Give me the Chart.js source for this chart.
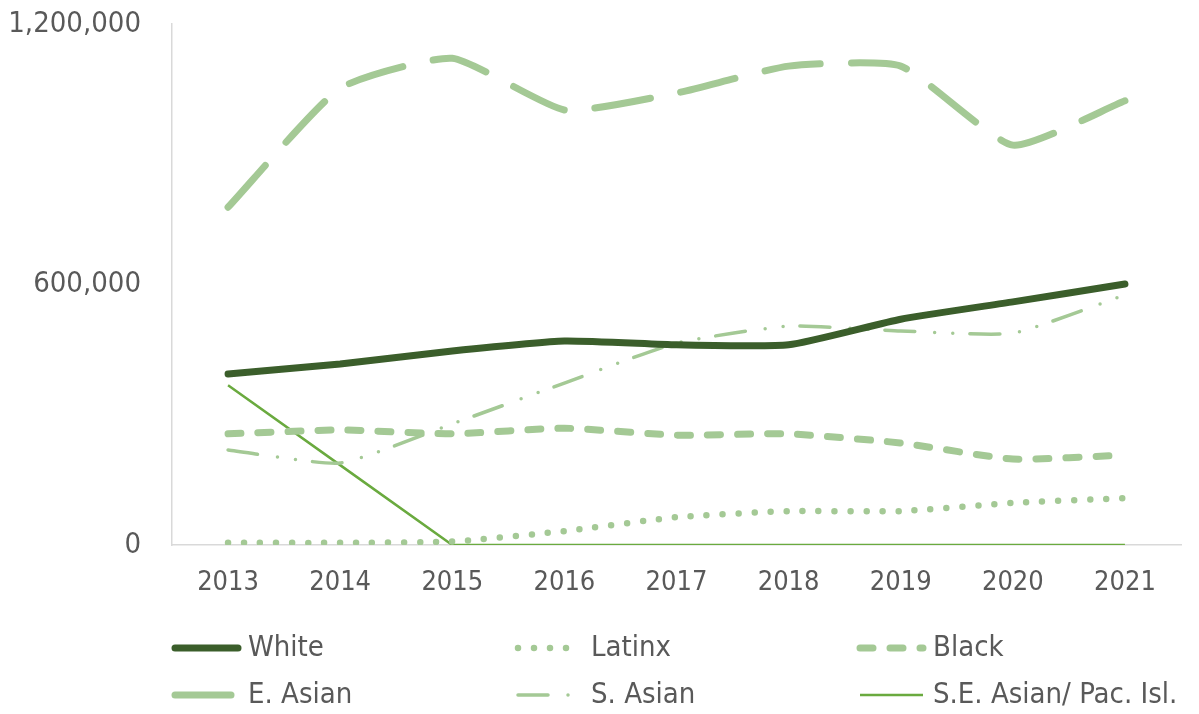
<!DOCTYPE html>
<html>
<head>
<meta charset="utf-8">
<script src="https://cdn.jsdelivr.net/npm/chart.js@4.4.1/dist/chart.umd.min.js"></script>
<style>
  html, body { margin: 0; padding: 0; background: #fff; }
  #wrap { width: 1199px; height: 714px; }
</style>
</head>
<body>
<div id="wrap"><canvas id="myChart" width="1199" height="714"></canvas></div>
<script>
var years = ["2013", "2014", "2015", "2016", "2017", "2018", "2019", "2020", "2021"];
var white   = [394000, 417000, 447000, 470000, 461000, 461000, 520000, 560000, 601000];
var latinx  = [5000, 5000, 8000, 32000, 64000, 78000, 78000, 97000, 108000];
var black   = [256000, 265000, 256000, 269000, 253000, 256000, 235000, 198000, 207000];
var eAsian  = [778000, 1052000, 1121000, 1002000, 1041000, 1103000, 1103000, 921000, 1023000];
var sAsian  = [219000, 189000, 279000, 373000, 465000, 504000, 493000, 488000, 576000];
var seAsian = [368000, 184000, 0, 0, 0, 0, 0, 0, 0];
var yTicks  = [0, 600000, 1200000];

var FONT = "'DejaVu Sans Condensed', Roboto, sans-serif";
var TEXT = '#595959';
var DARK = '#3b5e2b';
var LIGHT = '#a4c995';
var MID = '#6aaa3f';

// legend drawn by hand so the items sit in three fixed columns
var legendCols = [172, 515, 857];
var legendRows = [648, 695];
var gridLegend = {
    id: 'gridLegend',
    afterDraw: function(chart) {
        var c = chart.ctx;
        chart.data.datasets.forEach(function(ds, i) {
            var x = legendCols[i % 3];
            var y = legendRows[Math.floor(i / 3)];
            c.save();
            c.strokeStyle = ds.borderColor;
            c.lineWidth = ds.borderWidth;
            c.lineCap = ds.borderCapStyle || 'butt';
            c.setLineDash(ds.borderDash || []);
            c.beginPath();
            c.moveTo(x + 3, y);
            c.lineTo(x + 66, y);
            c.stroke();
            c.restore();
            c.save();
            c.fillStyle = TEXT;
            c.font = '29px ' + FONT;
            c.textBaseline = 'middle';
            c.fillText(ds.label, x + 76, y);
            c.restore();
        });
    }
};

var ctx = document.getElementById("myChart");
var myChart = new Chart(ctx, {
    type: 'line',
    data: {
        labels: years,
        datasets: [
            { label: 'White', data: white, borderColor: DARK, borderWidth: 7, borderCapStyle: 'round', tension: 0.17 },
            { label: 'Latinx', data: latinx, borderColor: LIGHT, borderWidth: 6.5, borderCapStyle: 'round', borderDash: [0, 16], tension: 0.17 },
            { label: 'Black', data: black, borderColor: LIGHT, borderWidth: 7, borderCapStyle: 'round', borderDash: [13, 17], tension: 0.17 },
            { label: 'E. Asian', data: eAsian, borderColor: LIGHT, borderWidth: 7, borderCapStyle: 'round', borderDash: [56, 31], tension: 0.17 },
            { label: 'S. Asian', data: sAsian, borderColor: LIGHT, borderWidth: 3.5, borderCapStyle: 'round', borderDash: [30, 20, 0, 18, 0, 17], tension: 0.17 },
            { label: 'S.E. Asian/ Pac. Isl.', data: seAsian, borderColor: MID, borderWidth: 2.5, tension: 0 }
        ]
    },
    options: {
        responsive: false,
        animation: false,
        layout: { padding: { left: 0, right: 18, top: 24, bottom: 109 } },
        elements: { point: { radius: 0 } },
        plugins: {
            legend: { display: false },
            tooltip: { enabled: false }
        },
        scales: {
            x: {
                offset: true,
                grid: { display: false },
                border: { display: true, color: '#d9d9d9', width: 1.5 },
                ticks: { color: TEXT, font: { family: FONT, size: 27 }, padding: 14, maxRotation: 0 },
                afterFit: function(scale) {
                    scale.height = 60;
                    scale.paddingLeft = 0;
                    scale.paddingRight = 0;
                }
            },
            y: {
                min: 0,
                max: 1200000,
                afterBuildTicks: function(scale) {
                    scale.ticks = yTicks.map(function(v) { return { value: v }; });
                },
                grid: { display: false },
                border: { display: true, color: '#d9d9d9', width: 1.5 },
                ticks: {
                    color: TEXT,
                    font: { family: FONT, size: 29 },
                    padding: 23,
                    callback: function(v) { return v.toLocaleString('en-US'); }
                },
                afterFit: function(scale) {
                    scale.width = 172;
                    scale.paddingTop = 0;
                    scale.paddingBottom = 0;
                }
            }
        }
    },
    plugins: [gridLegend]
});
</script>
</body>
</html>
